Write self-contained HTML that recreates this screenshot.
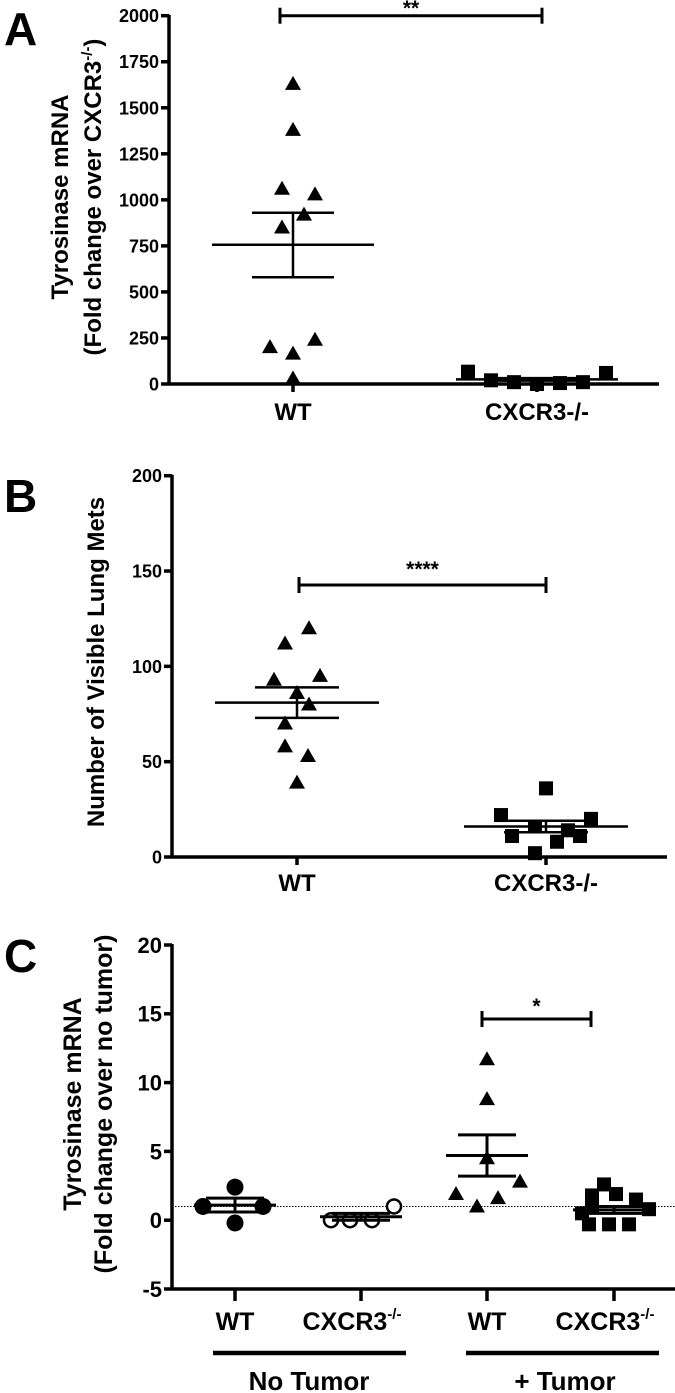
<!DOCTYPE html>
<html><head><meta charset="utf-8"><style>
html,body{margin:0;padding:0;background:#fff;}
svg{display:block;}
text{font-family:"Liberation Sans",Arial,sans-serif;font-weight:bold;fill:#000;}
</style></head><body>
<svg id="fig" width="675" height="1393" viewBox="0 0 675 1393" xmlns="http://www.w3.org/2000/svg"></svg>
<script>
// ---------- Panel A data ----------
const aCategories = ["WT", "CXCR3-/-"];
const aTicks = [0, 250, 500, 750, 1000, 1250, 1500, 1750, 2000];
const aWT = [1630, 1380, 1060, 1030, 920, 850, 240, 200, 165, 30];
const aWTJit = [0, 0, -11, 22, 11, -11, 22, -23, 0, 0];
const aKO = [67, 20, 10, 0, 5, 10, 60];
const aKOJit = [-69, -46, -23, 0, 23, 46, 69];
const aMean = [756, 25];
const aSemHi = [930, 32];
const aSemLo = [580, 18];
// ---------- Panel B data ----------
const bCategories = ["WT", "CXCR3-/-"];
const bTicks = [0, 50, 100, 150, 200];
const bWT = [120, 112, 95, 93, 86, 80, 70, 58, 53, 39];
const bWTJit = [12, -12, 23, -23, 0, 12, -12, -12, 11, 0];
const bKO = [36, 22, 20, 16, 14, 11, 11, 8, 2];
const bKOJit = [0, -45, 45, -11, 22, -34, 34, 11, -11];
const bMean = [81, 16];
const bSemHi = [89, 19];
const bSemLo = [73, 13];
// ---------- Panel C data ----------
const cCategories = ["WT", "CXCR3", "WT", "CXCR3"];
const cTicks = [-5, 0, 5, 10, 15, 20];
const cWTn = [2.4, 1.0, 1.0, -0.2];
const cWTnJit = [0, -32, 28, 0];
const cKOn = [0, 0, 0, 1.0];
const cKOnJit = [-30, -11, 11, 33];
const cWTt = [11.7, 8.8, 4.5, 2.8, 1.9, 1.6, 1.0];
const cWTtJit = [0, 0, 0, 33, -31, 11, -10];
const cKOt = [2.6, 1.8, 1.9, 1.5, 1.0, 0.5, -0.3, -0.3, -0.3, 0.8];
const cKOtJit = [-10, -22, 2, 22, -22, -32, -25, -5, 15, 35];
const cMean = [1.1, 0.25, 4.7, 0.75];
const cSemHi = [1.6, 0.5, 6.2, 1.0];
const cSemLo = [0.6, 0.0, 3.2, 0.5];

const NS = "http://www.w3.org/2000/svg";
const svg = document.getElementById("fig");
function mk(tag, attrs, parent) {
  const e = document.createElementNS(NS, tag);
  for (const k in attrs) e.setAttribute(k, attrs[k]);
  (parent || svg).appendChild(e);
  return e;
}
function line(x1, y1, x2, y2, w, p) { return mk("line", {x1, y1, x2, y2, stroke: "#000", "stroke-width": w}, p); }
function txt(x, y, s, size, anchor, p) {
  const t = mk("text", {x, y, "font-size": size, "text-anchor": anchor || "middle"}, p);
  t.textContent = s; return t;
}
function linScale(d0, d1, r0, r1) { return v => r0 + (v - d0) * (r1 - r0) / (d1 - d0); }

function yAxis(g, ys, ticks, axX, yTop, yBot, fs) {
  const ax = line(axX, yTop - 1, axX, yBot + 1, 3.5, g);
  
  
  ticks.forEach(t => {
    line(axX - 8, ys(t), axX, ys(t), 3.5, g);
    const l = txt(axX - 10, ys(t) + fs * 0.36, String(t), fs, "end", g);
    
    
  });
}
function tri(g, cx, cy) {
  const p = mk("polygon", {points: `${cx},${cy-8} ${cx-8},${cy+6} ${cx+8},${cy+6}`, fill: "#000"}, g);
  
  
}
function sq(g, cx, cy) {
  const p = mk("rect", {x: cx-7, y: cy-7, width: 14, height: 14, fill: "#000"}, g);
  
  
}
function circ(g, cx, cy, open) {
  const p = mk("circle", {cx, cy, r: open ? 7 : 8.5, fill: open ? "#fff" : "#000", stroke: "#000", "stroke-width": open ? 2.5 : 0}, g);
  
  
}
function meanSem(g, ys, x, m, hi, lo, hw, sw, w) {
  line(x - hw, ys(m), x + hw, ys(m), w, g);
  line(x - sw, ys(hi), x + sw, ys(hi), w, g);
  line(x - sw, ys(lo), x + sw, ys(lo), w, g);
  line(x, ys(hi), x, ys(lo), w, g);
}
function bracket(g, x1, x2, y, label, ly) {
  line(x1, y, x2, y, 3, g);
  line(x1, y - 8, x1, y + 8, 3, g);
  line(x2, y - 8, x2, y + 8, 3, g);
  const t = txt((x1 + x2) / 2, ly, label, 21, "middle", g);
  
  
}
function rotTitle(g, x, y, s, fs) {
  const t = mk("text", {x: 0, y: 0, "font-size": fs, "text-anchor": "middle", transform: `translate(${x},${y}) rotate(-90)`}, g);
  t.innerHTML = s; return t;
}

// ================= Panel A =================
{
  const g = mk("g", {});
  
  
  const ys = linScale(0, 2000, 384, 15.7);
  const xs = [293, 537];
  txt(4, 45, "A", 46, "start", g);
  yAxis(g, ys, aTicks, 169, 15.7, 384, 18);
  const xa = line(169, 384, 659, 384, 3.5, g);
  
  
  xs.forEach((x, i) => {
    line(x, 384, x, 392, 3.5, g);
    const l = txt(x, 420, aCategories[i], 24, "middle", g);
    
    
  });
  aWT.forEach((v, i) => tri(g, xs[0] + aWTJit[i], ys(v)));
  aKO.forEach((v, i) => sq(g, xs[1] + aKOJit[i], ys(v)));
  [0, 1].forEach(i => meanSem(g, ys, xs[i], aMean[i], aSemHi[i], aSemLo[i], 81, 41, 2.5));
  bracket(g, 280, 542, 15.7, "**", 15);
  const t = rotTitle(g, 0, 197, "", 24);
  
  
  t.innerHTML = `<tspan x="0" y="68">Tyrosinase mRNA</tspan><tspan x="0" y="101">(Fold change over CXCR3<tspan font-size="15" dy="-9">-/-</tspan><tspan dy="9">)</tspan></tspan>`;
}
// ================= Panel B =================
{
  const g = mk("g", {});
  
  
  const ys = linScale(0, 200, 857, 475.7);
  const xs = [297, 546];
  txt(4, 512, "B", 46, "start", g);
  yAxis(g, ys, bTicks, 172, 475.7, 857, 18);
  const xa = line(172, 857, 667, 857, 3.5, g);
  
  
  xs.forEach((x, i) => {
    line(x, 857, x, 865, 3.5, g);
    const l = txt(x, 891, bCategories[i], 24, "middle", g);
    
    
  });
  bWT.forEach((v, i) => tri(g, xs[0] + bWTJit[i], ys(v)));
  bKO.forEach((v, i) => sq(g, xs[1] + bKOJit[i], ys(v)));
  [0, 1].forEach(i => meanSem(g, ys, xs[i], bMean[i], bSemHi[i], bSemLo[i], 82, 42, 2.5));
  bracket(g, 299, 546, 585, "****", 576);
  const t = rotTitle(g, 104, 662, "Number of Visible Lung Mets", 24);
  
  
}
// ================= Panel C =================
{
  const g = mk("g", {});
  
  
  const ys = linScale(-5, 20, 1289, 945);
  const xs = [235, 361, 487, 614];
  txt(4, 972, "C", 46, "start", g);
  const ref = line(172, ys(1), 675, ys(1), 1, g);
  ref.setAttribute("stroke-dasharray", "1.5,1.5");
  
  
  yAxis(g, ys, cTicks, 172, 945, 1289, 22);
  const xa = line(172, 1289, 675, 1289, 3.5, g);
  
  
  xs.forEach((x, i) => {
    line(x, 1289, x, 1301, 3.5, g);
    const l = txt(x, 1330, cCategories[i], 25, "middle", g);
    
    
    if (i % 2 === 1) {
      l.setAttribute("x", x - 9);
      const s = mk("tspan", {"font-size": 15, dy: -11}, l); s.textContent = "-/-";
    }
  });
  cWTn.forEach((v, i) => circ(g, xs[0] + cWTnJit[i], ys(v), false));
  cKOn.forEach((v, i) => circ(g, xs[1] + cKOnJit[i], ys(v), true));
  cWTt.forEach((v, i) => tri(g, xs[2] + cWTtJit[i], ys(v)));
  cKOt.forEach((v, i) => sq(g, xs[3] + cKOtJit[i], ys(v)));
  [0, 1, 2, 3].forEach(i => meanSem(g, ys, xs[i], cMean[i], cSemHi[i], cSemLo[i], 41, 29, 3));
  bracket(g, 482, 591, 1019, "*", 1013);
  const gl1 = line(213, 1353, 406, 1353, 4.5, g);
  
  
  const gl2 = line(466, 1353, 659, 1353, 4.5, g);
  
  
  const n1 = txt(309, 1390, "No Tumor", 26, "middle", g);
  
  
  const n2 = txt(565, 1390, "+ Tumor", 26, "middle", g);
  
  
  const t = rotTitle(g, 0, 1104, "", 25);
  
  
  t.innerHTML = `<tspan x="0" y="81">Tyrosinase mRNA</tspan><tspan x="0" y="112">(Fold change over no tumor)</tspan>`;
}
</script>
</body></html>
